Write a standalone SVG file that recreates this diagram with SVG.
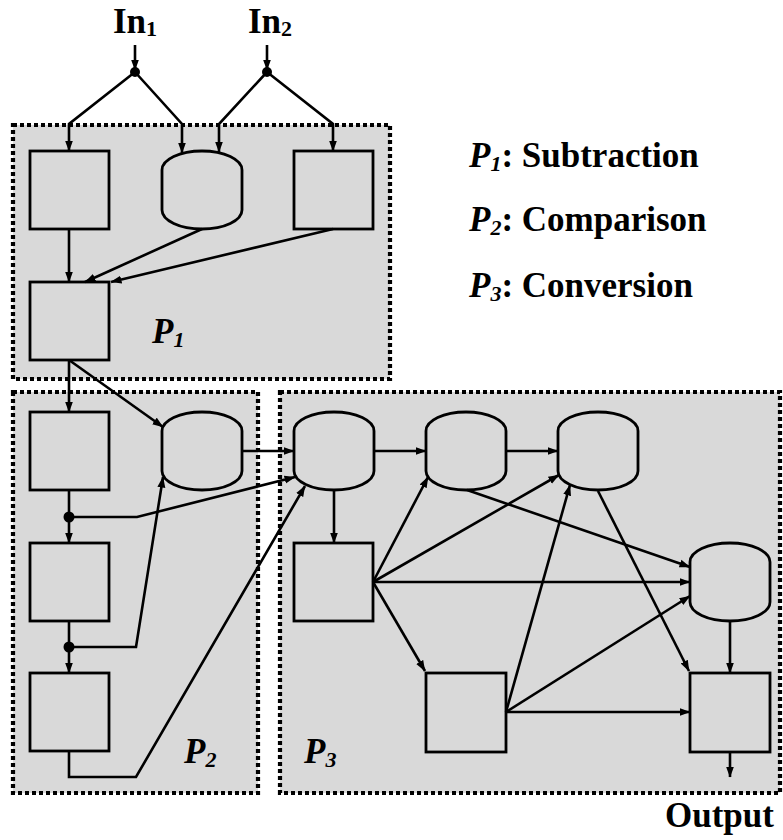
<svg xmlns="http://www.w3.org/2000/svg" width="783" height="840" viewBox="0 0 783 840">
<style>
.grp{fill:#d9d9d9;stroke:#000;stroke-width:4.2;stroke-dasharray:4 3}
.nd{fill:#d9d9d9;stroke:#000;stroke-width:2.8}
.cn{fill:none;stroke:#000;stroke-width:2.6}
.ar{marker-end:url(#ah)}
.t{font-family:"Liberation Serif","Times New Roman",serif;font-weight:bold;font-size:35px;fill:#000}
.it{font-style:italic}
.sub{font-size:22px}
</style>
<defs>
<marker id="ah" markerUnits="userSpaceOnUse" markerWidth="11" markerHeight="9" refX="10.5" refY="4.5" orient="auto">
<path d="M0,0.5 L11,4.5 L0,8.5 z" fill="#000"/>
</marker>
</defs>
<rect width="783" height="840" fill="#fff"/>
<g id="group-P1"><rect class="grp" x="13" y="125" width="377" height="254"/></g>
<g id="group-P2"><rect class="grp" x="13" y="392" width="245" height="401"/></g>
<g id="group-P3"><rect class="grp" x="280" y="392" width="500" height="401"/></g>

<g id="nodeA"><rect class="nd" x="30" y="151" width="79" height="78"/></g>
<g id="nodeB"><path class="nd" d="M162,170 A40,19 0 0 1 242,170 V210 A40,19 0 0 1 162,210 Z"/></g>
<g id="nodeC"><rect class="nd" x="294" y="151" width="79" height="78"/></g>
<g id="nodeD"><rect class="nd" x="30" y="282" width="79" height="78"/></g>
<g id="nodeE"><rect class="nd" x="30" y="412" width="79" height="78"/></g>
<g id="nodeF"><rect class="nd" x="30" y="543" width="79" height="78"/></g>
<g id="nodeG"><rect class="nd" x="30" y="673" width="79" height="78"/></g>
<g id="nodeK"><path class="nd" d="M162,431 A40,19 0 0 1 242,431 V471 A40,19 0 0 1 162,471 Z"/></g>
<g id="nodeQ1"><path class="nd" d="M294,431 A40,19 0 0 1 374,431 V471 A40,19 0 0 1 294,471 Z"/></g>
<g id="nodeQ2"><path class="nd" d="M426,431 A40,19 0 0 1 506,431 V471 A40,19 0 0 1 426,471 Z"/></g>
<g id="nodeQ3"><path class="nd" d="M558,431 A40,19 0 0 1 638,431 V471 A40,19 0 0 1 558,471 Z"/></g>
<g id="nodeQ4"><path class="nd" d="M690,562 A40,19 0 0 1 770,562 V602 A40,19 0 0 1 690,602 Z"/></g>
<g id="nodeH"><rect class="nd" x="294" y="543" width="79" height="78"/></g>
<g id="nodeI"><rect class="nd" x="426" y="673" width="80" height="79"/></g>
<g id="nodeJ"><rect class="nd" x="690" y="673" width="80" height="79"/></g>

<g id="connectors">
<line class="cn ar" x1="135" y1="45" x2="135" y2="70"/>
<line class="cn ar" x1="267" y1="45" x2="267" y2="70"/>
<polyline class="cn ar" points="135,72 69,124 69,151"/>
<polyline class="cn ar" points="135,72 182,124 182,153"/>
<polyline class="cn ar" points="267,72 219,124 219,152"/>
<polyline class="cn ar" points="267,72 333,124 333,151"/>
<line class="cn ar" x1="69" y1="229" x2="69" y2="282"/>
<line class="cn ar" x1="202" y1="229" x2="85" y2="282"/>
<line class="cn ar" x1="333" y1="229" x2="111" y2="282"/>
<line class="cn ar" x1="69" y1="360" x2="69" y2="412"/>
<line class="cn ar" x1="69" y1="360" x2="163" y2="427"/>
<line class="cn" x1="69" y1="490" x2="69" y2="517"/>
<line class="cn ar" x1="69" y1="517" x2="69" y2="543"/>
<polyline class="cn ar" points="69,517 137,517 295,477"/>
<line class="cn" x1="69" y1="621" x2="69" y2="647"/>
<line class="cn ar" x1="69" y1="647" x2="69" y2="673"/>
<polyline class="cn ar" points="69,647 136,647 163,477"/>
<polyline class="cn ar" points="69,751 69,777 136,777 305,486"/>
<line class="cn ar" x1="242" y1="451" x2="294" y2="451"/>
<line class="cn ar" x1="374" y1="451" x2="426" y2="451"/>
<line class="cn ar" x1="506" y1="451" x2="558" y2="451"/>
<line class="cn ar" x1="334" y1="490" x2="334" y2="543"/>
<line class="cn ar" x1="373" y1="582" x2="428" y2="477"/>
<line class="cn ar" x1="373" y1="582" x2="559" y2="475"/>
<line class="cn ar" x1="373" y1="582" x2="690" y2="582"/>
<line class="cn ar" x1="373" y1="582" x2="425" y2="671"/>
<line class="cn ar" x1="467" y1="490" x2="690" y2="567"/>
<line class="cn ar" x1="598" y1="491" x2="689" y2="671"/>
<line class="cn ar" x1="506" y1="712" x2="570" y2="485"/>
<line class="cn ar" x1="506" y1="712" x2="690" y2="596"/>
<line class="cn ar" x1="506" y1="712" x2="690" y2="712"/>
<line class="cn ar" x1="730" y1="621" x2="730" y2="673"/>
<line class="cn ar" x1="730" y1="752" x2="730" y2="777"/>
<circle cx="135" cy="72" r="5"/>
<circle cx="267" cy="72" r="5"/>
<circle cx="69" cy="517" r="5.5"/>
<circle cx="69" cy="647" r="5.5"/>
</g>

<g id="labels">
<text class="t" x="113" y="33">In<tspan class="sub" dy="3">1</tspan></text>
<text class="t" x="248" y="33">In<tspan class="sub" dy="3">2</tspan></text>
<text class="t it" x="152" y="343">P<tspan class="sub" dy="4">1</tspan></text>
<text class="t it" x="184" y="763">P<tspan class="sub" dy="4">2</tspan></text>
<text class="t it" x="304" y="763">P<tspan class="sub" dy="4">3</tspan></text>
<text class="t" x="469" y="167"><tspan class="it">P</tspan><tspan class="it sub" dy="4">1</tspan><tspan dy="-4">: Subtraction</tspan></text>
<text class="t" x="469" y="231"><tspan class="it">P</tspan><tspan class="it sub" dy="4">2</tspan><tspan dy="-4">: Comparison</tspan></text>
<text class="t" x="469" y="297"><tspan class="it">P</tspan><tspan class="it sub" dy="4">3</tspan><tspan dy="-4">: Conversion</tspan></text>
<text class="t" x="665" y="827">Output</text>
</g>
</svg>
